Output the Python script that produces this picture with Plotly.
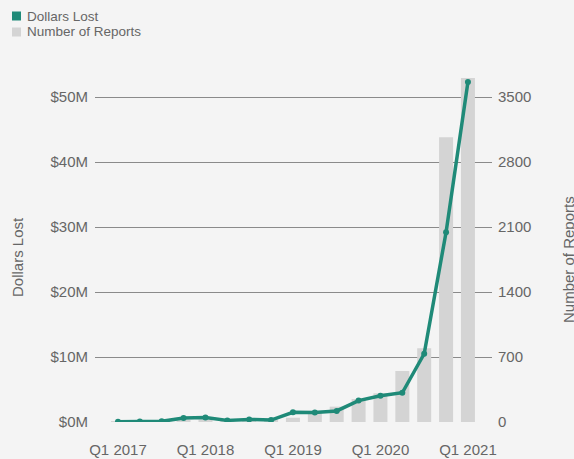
import plotly.graph_objects as go

quarters = ["Q1 2017", "Q2 2017", "Q3 2017", "Q4 2017",
            "Q1 2018", "Q2 2018", "Q3 2018", "Q4 2018",
            "Q1 2019", "Q2 2019", "Q3 2019", "Q4 2019",
            "Q1 2020", "Q2 2020", "Q3 2020", "Q4 2020",
            "Q1 2021"]
dollars_lost_m = [0.05, 0.08, 0.1, 0.6, 0.7, 0.25, 0.4, 0.3, 1.5, 1.45, 1.7,
                  3.3, 4.05, 4.5, 10.5, 29.2, 52.3]
num_reports = [5, 8, 10, 20, 25, 15, 20, 25, 46, 94, 165, 248, 309, 549,
               794, 3066, 3705]
x_tick_labels = ["Q1 2017", "Q1 2018", "Q1 2019", "Q1 2020", "Q1 2021"]
dollar_ticks = [0, 10, 20, 30, 40, 50]
dollar_tick_text = ["$%dM" % v for v in dollar_ticks]
report_ticks = [0, 700, 1400, 2100, 2800, 3500]
legend_names = ["Dollars Lost", "Number of Reports"]

TEAL = "#1f8a78"
BAR = "#d4d4d4"
TXT = "#666666"
BG = "#f4f4f4"
FONT = "Liberation Sans, Arial, sans-serif"

W, H = 574, 459
ML, MR, MT, MB = 95, 82, 60, 37
PW, PH = W - ML - MR, H - MT - MB


def px_x(px):
    return (px - ML) / PW


def px_y(py):
    return (H - MB - py) / PH


fig = go.Figure()
fig.add_trace(go.Bar(x=quarters, y=num_reports, name=legend_names[1],
                     marker=dict(color=BAR, line=dict(width=0)), width=0.64,
                     yaxis="y"))
fig.add_trace(go.Scatter(x=quarters, y=dollars_lost_m, name=legend_names[0],
                         mode="lines+markers",
                         line=dict(color=TEAL, width=3.5),
                         marker=dict(color=TEAL, size=6),
                         yaxis="y2"))

# manual legend (swatch + label)
shapes = []
annotations = []
for i, (name, col) in enumerate(zip(legend_names, [TEAL, BAR])):
    cy = 16 + 16 * i
    shapes.append(dict(type="rect", xref="paper", yref="paper",
                       x0=px_x(12), x1=px_x(21), y0=px_y(cy - 4.5), y1=px_y(cy + 4.5),
                       fillcolor=col, line=dict(width=0)))
    annotations.append(dict(text=name, xref="paper", yref="paper",
                            x=px_x(25), y=px_y(cy), xanchor="left", yanchor="middle",
                            showarrow=False, font=dict(size=13.5, color=TXT)))

annotations += [
    dict(text="Dollars Lost", xref="paper", yref="paper",
         x=px_x(17), y=px_y(257), textangle=-90,
         showarrow=False, xanchor="center", yanchor="middle",
         font=dict(size=15, color=TXT)),
    dict(text="Number of Reports", xref="paper", yref="paper",
         x=px_x(568), y=px_y(260), textangle=-90,
         showarrow=False, xanchor="center", yanchor="middle",
         font=dict(size=15, color=TXT)),
]

ymax_d = PH / 6.5
fig.update_layout(
    width=W, height=H,
    margin=dict(l=ML, r=MR, t=MT, b=MB, pad=0, autoexpand=False),
    paper_bgcolor=BG, plot_bgcolor=BG,
    font=dict(family=FONT, color=TXT, size=15),
    barmode="overlay",
    showlegend=False,
    xaxis=dict(type="category", range=[-1.05, 17.1], tickmode="array",
               tickvals=x_tick_labels, ticktext=x_tick_labels,
               showgrid=False, zeroline=False, showline=False, automargin=False,
               ticks="outside", ticklen=14, tickcolor="rgba(0,0,0,0)",
               tickfont=dict(size=15, color=TXT)),
    yaxis=dict(side="right", range=[0, ymax_d * 70], tickmode="array",
               tickvals=report_ticks, showgrid=True, gridcolor="#8a8a8a",
               gridwidth=1, zeroline=False, showline=False, automargin=False,
               ticks="outside", ticklen=2, tickcolor="rgba(0,0,0,0)",
               tickfont=dict(size=15, color=TXT)),
    yaxis2=dict(side="left", overlaying="y", range=[0, ymax_d],
                tickmode="array", tickvals=dollar_ticks, ticktext=dollar_tick_text,
                showgrid=False, zeroline=False, showline=False, automargin=False,
                ticks="outside", ticklen=3, tickcolor="rgba(0,0,0,0)",
                tickfont=dict(size=15, color=TXT)),
    shapes=shapes,
    annotations=annotations,
)

fig.write_html("out.html", config={"responsive": False, "displayModeBar": False},
               post_script="document.body.style.margin='0';"
                           "document.body.style.overflow='hidden';")
